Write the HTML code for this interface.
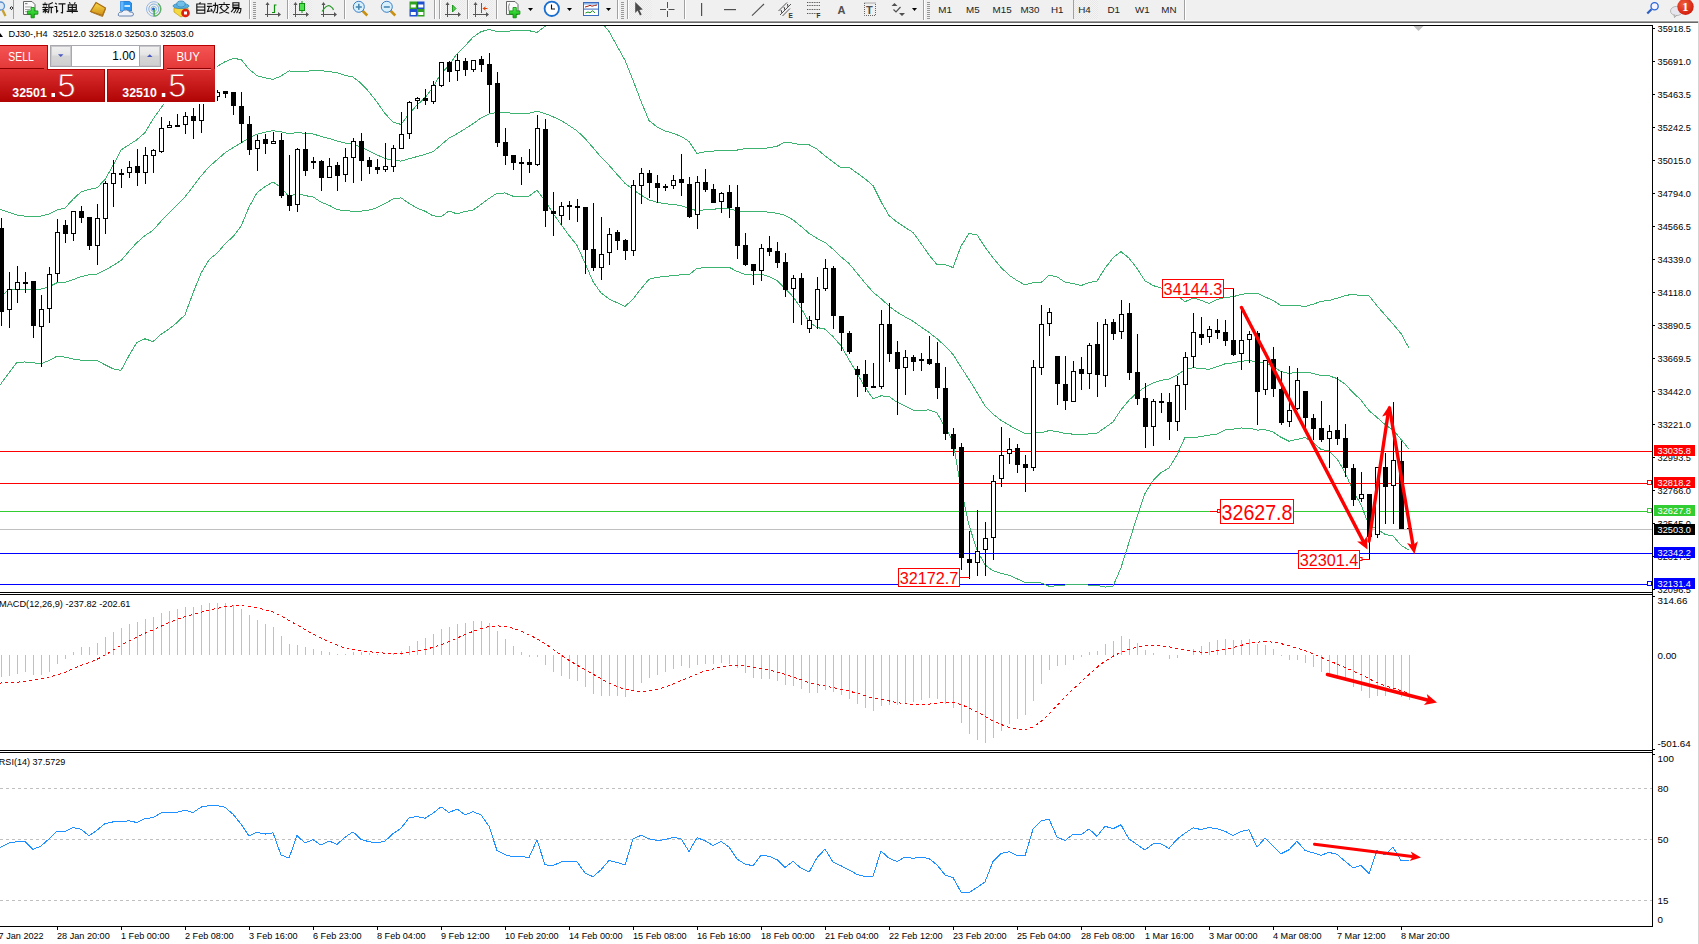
<!DOCTYPE html>
<html><head><meta charset="utf-8">
<style>
html,body{margin:0;padding:0;background:#fff;}
body{width:1699px;height:944px;overflow:hidden;position:relative;font-family:"Liberation Sans",sans-serif;}
#tb{position:absolute;left:0;top:0;width:1699px;height:20px;background:#f0f0f0;}
svg{position:absolute;left:0;top:0;}
.ax text{font-size:9.8px;fill:#000;}
</style></head><body>
<svg width="1699" height="944" viewBox="0 0 1699 944" shape-rendering="crispEdges">
<rect x="0" y="0" width="1699" height="20" fill="#f0f0f0"/>
<g shape-rendering="auto">
<defs><pattern id="chk" width="2" height="2" patternUnits="userSpaceOnUse"><rect width="2" height="2" fill="#f4f4f4"/><rect width="1" height="1" fill="#e8e8e8"/><rect x="1" y="1" width="1" height="1" fill="#e8e8e8"/></pattern><linearGradient id="gold" x1="0" y1="0" x2="0" y2="1"><stop offset="0" stop-color="#f8d848"/><stop offset="1" stop-color="#d09018"/></linearGradient><linearGradient id="grn" x1="0" y1="0" x2="0" y2="1"><stop offset="0" stop-color="#50f050"/><stop offset="1" stop-color="#10b010"/></linearGradient><radialGradient id="badge" cx="0.4" cy="0.35" r="0.7"><stop offset="0" stop-color="#f06040"/><stop offset="1" stop-color="#d01808"/></radialGradient></defs>
<circle cx="0.5" cy="6" r="4" fill="#dbe8f5" stroke="#5a8fd0" stroke-width="1.3"/><path d="M2.5,10 L5.5,16" stroke="#c8a030" stroke-width="2.4"/>
<path d="M11.5,6.6 L13,8.1 L11.5,9.6 L10,8.1 Z" fill="none" stroke="#000" stroke-width="0.9"/>
<rect x="13" y="0" width="1" height="19" fill="#a0a0a0"/>
<path d="M23.5,1.5 H32 L35,4.5 V14.5 H23.5 Z" fill="#fafafa" stroke="#666" stroke-width="1"/><rect x="25" y="3" width="2.5" height="1.2" fill="#888"/><rect x="25" y="6.5" width="7" height="0.9" fill="#999"/><rect x="25" y="9" width="5" height="0.9" fill="#999"/><rect x="25" y="11.2" width="3" height="0.9" fill="#999"/>
<path d="M31,7.5 h3.3 v3.4 h3.6 v3.3 h-3.6 v3.6 h-3.3 v-3.6 h-3.6 v-3.3 h3.6 Z" fill="url(#grn)" stroke="#0a8a0a" stroke-width="0.8"/>
<path transform="translate(42.3,2.2)" d="M2.5,0.3L3,1.3 M0.3,2.2H5.3 M1.3,3.2L1.9,4.4 M4.3,3.2L3.7,4.4 M0,5.3H5.6 M3,5.3V11 M0.3,7.4H5.6 M3,7.6L0.5,10.2 M3,8.2L5.3,9.8 M10.5,0.4Q8.5,1.5 6.6,2 V7.5Q6.5,9.8 5.6,11 M6.6,5.2H11 M9,5.2V11" fill="none" stroke="#111" stroke-width="1.15"/><path transform="translate(54.5,2.2)" d="M0.8,0.6L2.2,2.1 M0,4.3H2.1V9.8L3.6,8.3 M4,1.7H11 M8,1.7V10.5Q8,11 6.3,10.3" fill="none" stroke="#111" stroke-width="1.15"/><path transform="translate(66.7,2.2)" d="M2.6,0.1L3.6,1.6 M8.6,0.1L7.6,1.6 M1.6,2.6H9.6V7.6H1.6Z M1.6,5.1H9.6 M5.6,2.6V11 M0,9.2H11.2" fill="none" stroke="#111" stroke-width="1.15"/>
<path d="M96,2.6 L105.5,8 L102.5,15.5 L90.5,11.5 Z" fill="url(#gold)" stroke="#a86a10" stroke-width="1.1"/><path d="M91,12 L102.5,16.5 L105.5,9" fill="none" stroke="#b07820" stroke-width="1"/>
<path d="M120.5,1.5 H129.5 L131.5,3 V11 H120.5 Z" fill="#2a96f0" stroke="#1c70c8" stroke-width="0.8"/><rect x="124.5" y="5" width="5.5" height="2" fill="#cfe8ff"/><rect x="120.5" y="1.5" width="3" height="9" fill="#63b8ff"/>
<path d="M119.5,16 Q117.5,16 118.5,13.5 Q119.5,11.5 122,12 Q123.5,9.3 126.5,10 Q129,10 129.5,12 Q133.5,11.5 133.5,14 Q133.5,16.3 131,16 Z" fill="#eef2f8" stroke="#5877a8" stroke-width="0.9"/>
<circle cx="153.8" cy="9" r="7.3" fill="none" stroke="#8fb0e0" stroke-width="0.9"/><circle cx="153.8" cy="9" r="5" fill="none" stroke="#7aa8d8" stroke-width="0.9"/><circle cx="153.8" cy="9" r="2.7" fill="none" stroke="#88b8c8" stroke-width="0.9"/><path d="M158,3.5 A7.3,7.3 0 0 1 155,16.2" fill="none" stroke="#60b060" stroke-width="1.2"/><circle cx="153.5" cy="9" r="1.5" fill="#2060d0"/><rect x="153.5" y="9.5" width="1.2" height="7" fill="#20a020"/>
<path d="M174,12 L181,17 L188,13 L188,8 L174,8 Z" fill="#f4d840" stroke="#c8a020" stroke-width="0.8"/><ellipse cx="181" cy="6" rx="8" ry="2.6" fill="#58b0e0" stroke="#3a88b8" stroke-width="0.8"/><ellipse cx="181" cy="4" rx="4.2" ry="3" fill="#70c0ea" stroke="#3a88b8" stroke-width="0.8"/>
<circle cx="185.5" cy="13" r="4.3" fill="#dd2010"/><rect x="184" y="11.5" width="3" height="3" fill="#fff"/>
<path transform="translate(195.2,2.2)" d="M5.2,0L4.3,1.7 M1.6,1.8H9.6V11H1.6Z M1.6,4.8H9.6 M1.6,7.9H9.6" fill="none" stroke="#111" stroke-width="1.15"/><path transform="translate(206.9,2.2)" d="M0.4,1.5H5 M0,4.1H5.6 M2.6,4.1L0.6,9.2L5,8.5 M4,6.6L5.6,9.3 M6,3.2H10.8Q10.8,9 10.2,10.6L8.8,10 M8.5,0.2V4.6Q8.3,8.5 6,11" fill="none" stroke="#111" stroke-width="1.15"/><path transform="translate(218.6,2.2)" d="M5.5,0V1.6 M0,2.3H11.2 M3.6,3.3L1.2,5.8 M7.6,3.3L10.2,5.8 M2.2,5.8Q5,10 10.6,11 M9,5.8Q6.5,10 0.6,11" fill="none" stroke="#111" stroke-width="1.15"/><path transform="translate(230.3,2.2)" d="M2.6,0.5H8.6V5.2H2.6Z M2.6,2.9H8.6 M2.4,6.3H10.6Q10.6,9.5 9.6,10.8L8.4,10.2 M3.6,6.3L0.8,10 M6,6.3Q5.5,8.8 3.4,10.8 M8.3,6.3Q7.8,9 6.2,10.8" fill="none" stroke="#111" stroke-width="1.15"/>
<rect x="249" y="0" width="1" height="19" fill="#a0a0a0"/><rect x="250" y="0" width="1" height="19" fill="#ffffff"/>
<rect x="253" y="2" width="3" height="1" fill="#999"/><rect x="253" y="4" width="3" height="1" fill="#999"/><rect x="253" y="6" width="3" height="1" fill="#999"/><rect x="253" y="8" width="3" height="1" fill="#999"/><rect x="253" y="10" width="3" height="1" fill="#999"/><rect x="253" y="12" width="3" height="1" fill="#999"/><rect x="253" y="14" width="3" height="1" fill="#999"/><rect x="253" y="16" width="3" height="1" fill="#999"/><rect x="253" y="18" width="3" height="1" fill="#999"/>
<g fill="#555"><rect x="267" y="3" width="1" height="14"/><rect x="265" y="14" width="15" height="1"/><path d="M265.5,5 L267.5,2 L269.5,5 Z"/><path d="M278,12 L281,14.5 L278,17 Z"/></g>
<path d="M272,12.5 H274.5 V5 H276.5" fill="none" stroke="#109010" stroke-width="1.2"/>
<rect x="287" y="0" width="1" height="19" fill="#a0a0a0"/><rect x="288" y="0" width="1" height="19" fill="#ffffff"/>
<rect x="289" y="0" width="23" height="19" fill="url(#chk)"/>
<g fill="#555"><rect x="295" y="3" width="1" height="14"/><rect x="293" y="14" width="15" height="1"/><path d="M293.5,5 L295.5,2 L297.5,5 Z"/><path d="M306,12 L309,14.5 L306,17 Z"/></g>
<rect x="301.5" y="1" width="1" height="12" fill="#109010"/><rect x="299.5" y="3.5" width="5" height="7" fill="#50e050" stroke="#109010" stroke-width="1"/>
<g fill="#555"><rect x="323" y="3" width="1" height="14"/><rect x="321" y="14" width="15" height="1"/><path d="M321.5,5 L323.5,2 L325.5,5 Z"/><path d="M334,12 L337,14.5 L334,17 Z"/></g>
<path d="M322,11.5 Q327,4 330,6 Q333,8 333.5,10" fill="none" stroke="#2a9a2a" stroke-width="1.1"/>
<rect x="344" y="0" width="1" height="19" fill="#a0a0a0"/><rect x="345" y="0" width="1" height="19" fill="#ffffff"/>
<path d="M362.3,10.5 L367.3,15.5" stroke="#c89010" stroke-width="2.6"/>
<circle cx="358.8" cy="6.8" r="5.5" fill="#d8effc" stroke="#3a80c8" stroke-width="1"/>
<rect x="355.8" y="6.2" width="6" height="1.6" fill="#4a88b0"/>
<rect x="358.0" y="3.8" width="1.6" height="6" fill="#4a88b0"/>
<path d="M390.3,10.5 L395.3,15.5" stroke="#c89010" stroke-width="2.6"/>
<circle cx="386.8" cy="6.8" r="5.5" fill="#d8effc" stroke="#3a80c8" stroke-width="1"/>
<rect x="383.8" y="6.2" width="6" height="1.6" fill="#4a88b0"/>
<rect x="409.5" y="1.5" width="7.5" height="7.5" fill="#30a020"/><rect x="417" y="1.5" width="7.5" height="7.5" fill="#2050d0"/><rect x="409.5" y="9" width="7.5" height="7.5" fill="#2050d0"/><rect x="417" y="9" width="7.5" height="7.5" fill="#30a020"/>
<g fill="#fff"><rect x="410.8" y="4.5" width="5" height="3"/><rect x="418.3" y="4.5" width="5" height="3"/><rect x="410.8" y="12" width="5" height="3"/><rect x="418.3" y="12" width="5" height="3"/></g>
<rect x="434" y="0" width="1" height="19" fill="#a0a0a0"/><rect x="435" y="0" width="1" height="19" fill="#ffffff"/>
<rect x="439" y="0" width="1" height="19" fill="#a0a0a0"/><rect x="440" y="0" width="1" height="19" fill="#ffffff"/>
<rect x="441" y="0" width="24" height="19" fill="url(#chk)"/>
<g fill="#555"><rect x="447" y="3" width="1" height="14"/><rect x="445" y="14" width="15" height="1"/><path d="M445.5,5 L447.5,2 L449.5,5 Z"/><path d="M458,12 L461,14.5 L458,17 Z"/></g>
<path d="M452.5,5 L456,8.5 L452.5,12 Z" fill="#50d050" stroke="#109010" stroke-width="0.9"/>
<rect x="467" y="0" width="1" height="19" fill="#a0a0a0"/><rect x="468" y="0" width="1" height="19" fill="#ffffff"/>
<rect x="469" y="0" width="24" height="19" fill="url(#chk)"/>
<g fill="#555"><rect x="475" y="3" width="1" height="14"/><rect x="473" y="14" width="15" height="1"/><path d="M473.5,5 L475.5,2 L477.5,5 Z"/><path d="M486,12 L489,14.5 L486,17 Z"/></g>
<rect x="481" y="3" width="1" height="10" fill="#1a70b0"/><path d="M482.5,8.5 L486,6.3 L485,8 L487.5,8 L487.5,9 L485,9 L486,10.7 Z" fill="#e04000"/>
<rect x="496" y="0" width="1" height="19" fill="#a0a0a0"/><rect x="497" y="0" width="1" height="19" fill="#ffffff"/>
<path d="M506.5,1.5 H515 L518,4.5 V14.5 H506.5 Z" fill="#fafafa" stroke="#666" stroke-width="1"/><path d="M509.5,3.5 Q508,6 509,11" stroke="#666" fill="none" stroke-width="0.8"/>
<path d="M513,7.5 h3.3 v3.4 h3.6 v3.3 h-3.6 v3.6 h-3.3 v-3.6 h-3.6 v-3.3 h3.6 Z" fill="url(#grn)" stroke="#0a8a0a" stroke-width="0.8"/>
<path d="M528,8 L533,8 L530.5,11 Z" fill="#000"/>
<circle cx="551.8" cy="8.8" r="7.2" fill="#fff" stroke="#1a6fd0" stroke-width="1.8"/><path d="M551.5,4.5 V9 H555" fill="none" stroke="#111" stroke-width="1.1"/>
<path d="M567,8 L572,8 L569.5,11 Z" fill="#000"/>
<rect x="583.5" y="2.5" width="15" height="13" fill="#fff" stroke="#3a6cc0" stroke-width="1"/><rect x="584" y="3" width="14" height="1.6" fill="#8fb4e8"/><rect x="584" y="8.6" width="14" height="1" fill="#3a6cc0"/>
<path d="M585,7 L588,6.2 L590,5.3 L592,6.2 L594.5,5.5 L597,5" fill="none" stroke="#a02010" stroke-width="1"/><path d="M585.5,13 L588,12 L590,12.8 L592.5,10.8 L595,12.8" fill="none" stroke="#10901a" stroke-width="1"/>
<path d="M606,8 L611,8 L608.5,11 Z" fill="#000"/>
<rect x="617" y="0" width="1" height="19" fill="#a0a0a0"/><rect x="618" y="0" width="1" height="19" fill="#ffffff"/>
<rect x="621" y="2" width="3" height="1" fill="#999"/><rect x="621" y="4" width="3" height="1" fill="#999"/><rect x="621" y="6" width="3" height="1" fill="#999"/><rect x="621" y="8" width="3" height="1" fill="#999"/><rect x="621" y="10" width="3" height="1" fill="#999"/><rect x="621" y="12" width="3" height="1" fill="#999"/><rect x="621" y="14" width="3" height="1" fill="#999"/><rect x="621" y="16" width="3" height="1" fill="#999"/><rect x="621" y="18" width="3" height="1" fill="#999"/>
<rect x="627" y="0" width="1" height="19" fill="#a0a0a0"/><rect x="628" y="0" width="1" height="19" fill="#ffffff"/>
<rect x="629" y="0" width="23" height="19" fill="url(#chk)"/>
<path d="M635.2,2 L635.2,13 L637.6,10.6 L640,15.5 L641.7,14.6 L639.4,10 L642.8,9.6 Z" fill="#4a4a4a"/>
<g fill="#505050"><rect x="660" y="9" width="6" height="1"/><rect x="668.5" y="9" width="6" height="1"/><rect x="667" y="2" width="1" height="6"/><rect x="667" y="11" width="1" height="6"/></g>
<rect x="684" y="0" width="1" height="19" fill="#a0a0a0"/><rect x="685" y="0" width="1" height="19" fill="#ffffff"/>
<rect x="701" y="3" width="1.2" height="13" fill="#505050"/><rect x="724" y="9" width="12" height="1.2" fill="#505050"/>
<path d="M752,15.6 L764,4" stroke="#505050" stroke-width="1.1"/>
<path d="M778.5,11 L787,2.5 M780,15 L791,4 M782.5,16 L790,8.5" stroke="#444" stroke-width="0.9" fill="none"/><path d="M781,10 L782,13 M784,7 L785,10 M787.5,4 L788,7" stroke="#444" stroke-width="1"/>
<text x="788.5" y="17.8" font-size="6.5" font-weight="bold" fill="#333">E</text>
<g fill="#555"><rect x="807.0" y="2" width="1" height="1"/><rect x="808.7" y="2" width="1" height="1"/><rect x="810.4" y="2" width="1" height="1"/><rect x="812.1" y="2" width="1" height="1"/><rect x="813.8" y="2" width="1" height="1"/><rect x="815.5" y="2" width="1" height="1"/><rect x="817.2" y="2" width="1" height="1"/><rect x="818.9" y="2" width="1" height="1"/><rect x="807.0" y="5" width="1" height="1"/><rect x="808.7" y="5" width="1" height="1"/><rect x="810.4" y="5" width="1" height="1"/><rect x="812.1" y="5" width="1" height="1"/><rect x="813.8" y="5" width="1" height="1"/><rect x="815.5" y="5" width="1" height="1"/><rect x="817.2" y="5" width="1" height="1"/><rect x="818.9" y="5" width="1" height="1"/><rect x="807.0" y="9" width="1" height="1"/><rect x="808.7" y="9" width="1" height="1"/><rect x="810.4" y="9" width="1" height="1"/><rect x="812.1" y="9" width="1" height="1"/><rect x="813.8" y="9" width="1" height="1"/><rect x="815.5" y="9" width="1" height="1"/><rect x="817.2" y="9" width="1" height="1"/><rect x="818.9" y="9" width="1" height="1"/><rect x="807.0" y="13" width="1" height="1"/><rect x="808.7" y="13" width="1" height="1"/><rect x="810.4" y="13" width="1" height="1"/><rect x="812.1" y="13" width="1" height="1"/><rect x="813.8" y="13" width="1" height="1"/><rect x="815.5" y="13" width="1" height="1"/><rect x="817.2" y="13" width="1" height="1"/><rect x="818.9" y="13" width="1" height="1"/></g>
<text x="816.5" y="17.8" font-size="6.5" font-weight="bold" fill="#333">F</text>
<text x="837.6" y="14" font-size="11" font-weight="bold" fill="#505050">A</text>
<rect x="864.5" y="3" width="11" height="12.5" fill="none" stroke="#555" stroke-width="0.9" stroke-dasharray="1,1"/><text x="866" y="13.6" font-size="11" font-weight="bold" fill="#505050">T</text>
<path d="M891.5,6 L894.5,3 L897.5,6 Z M899,13 L902,16 L905,13 Z" fill="#505050"/><path d="M893.5,9.5 L896,12 L900.5,7" fill="none" stroke="#505050" stroke-width="1.2"/>
<path d="M912,8 L917,8 L914.5,11 Z" fill="#000"/>
<rect x="923" y="0" width="1" height="20" fill="#a0a0a0"/><rect x="924" y="0" width="1" height="20" fill="#ffffff"/>
<rect x="927" y="2" width="3" height="1" fill="#999"/><rect x="927" y="4" width="3" height="1" fill="#999"/><rect x="927" y="6" width="3" height="1" fill="#999"/><rect x="927" y="8" width="3" height="1" fill="#999"/><rect x="927" y="10" width="3" height="1" fill="#999"/><rect x="927" y="12" width="3" height="1" fill="#999"/><rect x="927" y="14" width="3" height="1" fill="#999"/><rect x="927" y="16" width="3" height="1" fill="#999"/><rect x="927" y="18" width="3" height="1" fill="#999"/>
<rect x="1074" y="0" width="24" height="19" fill="url(#chk)"/>
<rect x="1073" y="0" width="1" height="19" fill="#a0a0a0"/>
<text x="938.3" y="13.2" font-size="9.8" fill="#222">M1</text>
<text x="966.1" y="13.2" font-size="9.8" fill="#222">M5</text>
<text x="992.6" y="13.2" font-size="9.8" fill="#222">M15</text>
<text x="1020.4" y="13.2" font-size="9.8" fill="#222">M30</text>
<text x="1051" y="13.2" font-size="9.8" fill="#222">H1</text>
<text x="1078.2" y="13.2" font-size="9.8" fill="#222">H4</text>
<text x="1107.5" y="13.2" font-size="9.8" fill="#222">D1</text>
<text x="1135" y="13.2" font-size="9.8" fill="#222">W1</text>
<text x="1161.3" y="13.2" font-size="9.8" fill="#222">MN</text>
<rect x="1184" y="0" width="1" height="20" fill="#a0a0a0"/><rect x="1185" y="0" width="1" height="20" fill="#ffffff"/>
<path d="M1651.5,9.3 L1647.3,13.6" stroke="#2a5fc8" stroke-width="2.2"/><circle cx="1654.6" cy="6.3" r="3.6" fill="#f4f4ff" stroke="#2a66d8" stroke-width="1.3"/>
<ellipse cx="1676.5" cy="11" rx="6" ry="4.6" fill="#e6e6ee" stroke="#b0b0b0" stroke-width="0.9"/><path d="M1674,14.5 L1674.5,17.6 L1677,15" fill="#ccc" stroke="#999" stroke-width="0.7"/>
<circle cx="1685.5" cy="6.8" r="8.2" fill="url(#badge)"/><text x="1682.2" y="10.9" font-size="12.5" font-family="Liberation Serif" font-weight="bold" fill="#fff">1</text>
</g>
<!-- toolbar bottom lines -->
<rect x="0" y="20" width="1699" height="1" fill="#f7f7f7"/>
<rect x="0" y="21" width="1698" height="1" fill="#a0a0a0"/>
<rect x="0" y="22" width="1698" height="1" fill="#696969"/>
<rect x="1698" y="21" width="1" height="923" fill="#d4d4d4"/>
<defs>
<clipPath id="cm"><rect x="0" y="26" width="1652" height="566"/></clipPath>
<clipPath id="cd"><rect x="0" y="595" width="1652" height="155"/></clipPath>
<clipPath id="cr"><rect x="0" y="753" width="1652" height="173"/></clipPath>
</defs>
<!-- frames -->
<g fill="#000">
<rect x="0" y="25" width="1653" height="1"/>
<rect x="1652" y="25" width="1" height="902"/>
<rect x="0" y="592" width="1653" height="1"/>
<rect x="0" y="594" width="1653" height="1"/>
<rect x="0" y="750" width="1653" height="1"/>
<rect x="0" y="752" width="1653" height="1"/>
<rect x="0" y="926" width="1653" height="1"/>
</g>
<!-- main chart -->
<g clip-path="url(#cm)">
<!-- horizontal lines -->
<rect x="0" y="451" width="1652" height="1" fill="#ff0000"/>
<rect x="0" y="483" width="1652" height="1" fill="#ff0000"/>
<rect x="0" y="511" width="1652" height="1" fill="#32cd32"/>
<rect x="0" y="529" width="1652" height="1" fill="#c0c0c0"/>
<rect x="0" y="553" width="1652" height="1" fill="#0000ff"/>
<rect x="0" y="584" width="1652" height="1" fill="#0000ff"/>
<g fill="none" stroke="#3cb371" stroke-width="1" shape-rendering="crispEdges">
<polyline points="-7.0,206.6 1.0,209.5 9.0,212.4 17.0,215.1 25.0,216.1 33.0,216.1 41.0,216.1 49.0,214.0 57.0,209.9 65.0,208.1 73.0,199.3 81.0,192.0 89.0,189.5 97.0,187.9 105.0,179.5 113.0,165.6 121.0,150.0 129.0,144.8 137.0,139.6 145.0,132.6 153.0,119.1 161.0,108.0 169.0,96.9 177.0,87.6 185.0,78.8 193.0,80.1 201.0,78.8 209.0,74.1 217.0,66.5 225.0,61.8 233.0,58.5 241.0,59.4 249.0,69.1 257.0,75.7 265.0,77.9 273.0,79.4 281.0,76.0 289.0,70.9 297.0,71.8 305.0,71.1 313.0,70.9 321.0,70.6 329.0,71.6 337.0,72.6 345.0,75.3 353.0,77.0 361.0,83.3 369.0,91.8 377.0,102.1 385.0,113.5 393.0,122.2 401.0,124.4 409.0,114.0 417.0,105.1 425.0,97.7 433.0,87.5 441.0,73.2 449.0,65.5 457.0,53.7 465.0,46.0 473.0,37.2 481.0,31.7 489.0,29.5 497.0,31.5 505.0,31.6 513.0,30.6 521.0,30.5 529.0,30.7 537.0,32.4 545.0,26.4 553.0,20.2 561.0,16.4 569.0,15.7 577.0,16.5 585.0,13.8 593.0,13.5 601.0,21.4 609.0,31.5 617.0,45.9 625.0,60.2 633.0,80.2 641.0,101.2 649.0,120.5 657.0,126.9 665.0,130.9 673.0,133.3 681.0,136.3 689.0,141.4 697.0,153.5 705.0,151.8 713.0,151.2 721.0,150.1 729.0,150.3 737.0,150.1 745.0,148.6 753.0,148.2 761.0,148.7 769.0,147.8 777.0,146.3 785.0,142.0 793.0,143.2 801.0,144.8 809.0,144.7 817.0,149.2 825.0,155.8 833.0,161.9 841.0,167.7 849.0,167.3 857.0,173.0 865.0,178.8 873.0,185.6 881.0,201.6 889.0,215.5 897.0,222.1 905.0,227.4 913.0,232.5 921.0,243.4 929.0,255.0 937.0,264.6 945.0,264.5 953.0,267.6 961.0,246.2 969.0,233.5 977.0,234.8 985.0,247.0 993.0,257.7 1001.0,267.4 1009.0,275.1 1017.0,280.5 1025.0,285.0 1033.0,282.6 1041.0,282.6 1049.0,275.1 1057.0,276.9 1065.0,282.2 1073.0,283.4 1081.0,285.6 1089.0,282.6 1097.0,281.0 1105.0,268.3 1113.0,257.8 1121.0,251.7 1129.0,258.1 1137.0,268.5 1145.0,280.8 1153.0,285.5 1161.0,288.1 1169.0,290.1 1177.0,295.2 1185.0,301.7 1193.0,298.0 1201.0,300.2 1209.0,303.5 1217.0,299.5 1225.0,297.6 1233.0,296.7 1241.0,294.5 1249.0,293.3 1257.0,293.0 1265.0,297.0 1273.0,300.3 1281.0,305.8 1289.0,305.6 1297.0,305.5 1305.0,306.5 1313.0,304.3 1321.0,301.3 1329.0,300.5 1337.0,298.3 1345.0,295.7 1353.0,294.1 1361.0,295.8 1369.0,295.8 1377.0,305.8 1385.0,314.9 1393.0,324.0 1401.0,333.5 1409.0,348.1"/>
<polyline points="-7.0,302.3 1.0,296.1 9.0,289.9 17.0,289.0 25.0,289.0 33.0,289.0 41.0,289.1 49.0,286.8 57.0,282.7 65.0,282.2 73.0,279.6 81.0,276.7 89.0,274.8 97.0,274.2 105.0,270.2 113.0,265.5 121.0,260.5 129.0,251.3 137.0,242.5 145.0,235.5 153.0,230.3 161.0,221.2 169.0,212.9 177.0,205.1 185.0,196.8 193.0,186.6 201.0,176.0 209.0,166.9 217.0,159.8 225.0,152.8 233.0,147.6 241.0,142.9 249.0,138.1 257.0,134.2 265.0,132.2 273.0,130.7 281.0,131.8 289.0,133.8 297.0,132.6 305.0,133.3 313.0,133.9 321.0,136.4 329.0,138.4 337.0,141.0 345.0,143.1 353.0,144.1 361.0,147.2 369.0,150.9 377.0,154.9 385.0,158.5 393.0,160.6 401.0,161.1 409.0,158.7 417.0,156.6 425.0,154.4 433.0,151.7 441.0,144.9 449.0,138.2 457.0,133.8 465.0,128.8 473.0,123.7 481.0,118.0 489.0,114.0 497.0,112.3 505.0,112.3 513.0,113.4 521.0,113.5 529.0,113.3 537.0,111.2 545.0,113.5 553.0,116.8 561.0,120.4 569.0,125.5 577.0,130.9 585.0,138.4 593.0,147.6 601.0,157.2 609.0,165.2 617.0,174.3 625.0,183.3 633.0,189.6 641.0,195.0 649.0,199.9 657.0,202.2 665.0,203.7 673.0,204.5 681.0,205.6 689.0,208.2 697.0,210.8 705.0,209.8 713.0,209.2 721.0,208.6 729.0,208.8 737.0,210.8 745.0,211.5 753.0,211.7 761.0,211.3 769.0,212.2 777.0,213.3 785.0,215.3 793.0,219.9 801.0,226.4 809.0,233.3 817.0,238.3 825.0,242.4 833.0,249.2 841.0,256.8 849.0,263.5 857.0,273.1 865.0,283.0 873.0,292.1 881.0,298.7 889.0,306.0 897.0,312.1 905.0,316.8 913.0,321.3 921.0,326.9 929.0,332.4 937.0,338.7 945.0,345.9 953.0,354.4 961.0,367.2 969.0,379.4 977.0,392.4 985.0,405.9 993.0,414.2 1001.0,420.3 1009.0,425.1 1017.0,429.6 1025.0,433.7 1033.0,432.8 1041.0,432.8 1049.0,430.6 1057.0,431.4 1065.0,433.6 1073.0,434.1 1081.0,434.8 1089.0,433.9 1097.0,433.2 1105.0,427.7 1113.0,421.9 1121.0,409.8 1129.0,400.2 1137.0,392.6 1145.0,387.1 1153.0,383.1 1161.0,380.4 1169.0,379.1 1177.0,375.1 1185.0,369.5 1193.0,367.8 1201.0,368.4 1209.0,369.3 1217.0,366.8 1225.0,363.8 1233.0,362.9 1241.0,361.2 1249.0,360.7 1257.0,361.6 1265.0,363.4 1273.0,366.1 1281.0,371.6 1289.0,373.4 1297.0,372.4 1305.0,372.0 1313.0,373.4 1321.0,375.4 1329.0,375.8 1337.0,378.5 1345.0,384.1 1353.0,392.4 1361.0,400.2 1369.0,410.6 1377.0,417.4 1385.0,424.6 1393.0,429.9 1401.0,439.4 1409.0,449.1"/>
<polyline points="-7.0,394.6 1.0,383.7 9.0,372.9 17.0,362.1 25.0,362.0 33.0,362.8 41.0,363.6 49.0,360.7 57.0,356.1 65.0,357.1 73.0,359.1 81.0,360.2 89.0,360.2 97.0,360.4 105.0,364.8 113.0,368.7 121.0,370.4 129.0,355.6 137.0,342.3 145.0,338.8 153.0,341.6 161.0,334.3 169.0,329.0 177.0,322.6 185.0,314.8 193.0,293.0 201.0,273.2 209.0,259.7 217.0,253.2 225.0,243.9 233.0,236.7 241.0,226.4 249.0,207.1 257.0,192.7 265.0,186.6 273.0,181.9 281.0,187.6 289.0,196.6 297.0,193.3 305.0,195.6 313.0,196.9 321.0,202.2 329.0,205.3 337.0,209.4 345.0,210.8 353.0,211.1 361.0,211.1 369.0,210.1 377.0,207.7 385.0,203.5 393.0,199.0 401.0,197.8 409.0,203.4 417.0,208.1 425.0,211.2 433.0,215.8 441.0,216.7 449.0,211.0 457.0,213.9 465.0,211.5 473.0,210.2 481.0,204.4 489.0,198.5 497.0,193.2 505.0,193.0 513.0,196.2 521.0,196.4 529.0,196.0 537.0,190.1 545.0,200.6 553.0,213.4 561.0,224.4 569.0,235.4 577.0,245.4 585.0,263.0 593.0,281.6 601.0,292.9 609.0,299.0 617.0,302.7 625.0,306.5 633.0,299.0 641.0,288.8 649.0,279.3 657.0,277.4 665.0,276.4 673.0,275.7 681.0,274.8 689.0,274.9 697.0,268.2 705.0,267.8 713.0,267.3 721.0,267.1 729.0,267.2 737.0,271.4 745.0,274.4 753.0,275.1 761.0,274.0 769.0,276.7 777.0,280.4 785.0,288.6 793.0,296.7 801.0,308.1 809.0,321.9 817.0,327.5 825.0,329.1 833.0,336.6 841.0,345.8 849.0,359.7 857.0,373.3 865.0,387.2 873.0,398.7 881.0,395.8 889.0,396.5 897.0,402.2 905.0,406.1 913.0,410.1 921.0,410.3 929.0,409.9 937.0,412.8 945.0,427.3 953.0,441.3 961.0,488.2 969.0,525.2 977.0,550.1 985.0,564.9 993.0,570.7 1001.0,573.2 1009.0,575.2 1017.0,578.8 1025.0,582.4 1033.0,582.9 1041.0,582.9 1049.0,586.2 1057.0,585.9 1065.0,585.0 1073.0,584.7 1081.0,584.0 1089.0,585.1 1097.0,585.4 1105.0,587.1 1113.0,586.1 1121.0,567.8 1129.0,542.4 1137.0,516.8 1145.0,493.4 1153.0,480.7 1161.0,472.7 1169.0,468.0 1177.0,454.9 1185.0,437.3 1193.0,437.5 1201.0,436.7 1209.0,435.1 1217.0,434.0 1225.0,429.9 1233.0,429.2 1241.0,428.0 1249.0,428.1 1257.0,430.1 1265.0,429.7 1273.0,431.9 1281.0,437.3 1289.0,441.2 1297.0,439.4 1305.0,437.5 1313.0,442.5 1321.0,449.4 1329.0,451.1 1337.0,458.7 1345.0,472.4 1353.0,490.8 1361.0,504.7 1369.0,525.5 1377.0,528.9 1385.0,534.4 1393.0,535.8 1401.0,545.2 1409.0,550.1"/>
</g>
<g fill="#000">
<rect x="1" y="218" width="1" height="108"/>
<rect x="-1" y="228" width="5" height="84"/>
<rect x="9" y="272" width="1" height="17"/>
<rect x="9" y="310" width="1" height="18"/>
<rect x="7" y="289" width="5" height="21"/>
<rect x="8" y="290" width="3" height="19" fill="#fff"/>
<rect x="17" y="266" width="1" height="16"/>
<rect x="17" y="290" width="1" height="13"/>
<rect x="15" y="282" width="5" height="8"/>
<rect x="16" y="283" width="3" height="6" fill="#fff"/>
<rect x="25" y="272" width="1" height="21"/>
<rect x="23" y="282" width="5" height="2"/>
<rect x="33" y="281" width="1" height="57"/>
<rect x="31" y="281" width="5" height="45"/>
<rect x="41" y="295" width="1" height="14"/>
<rect x="41" y="327" width="1" height="40"/>
<rect x="39" y="309" width="5" height="18"/>
<rect x="40" y="310" width="3" height="16" fill="#fff"/>
<rect x="49" y="267" width="1" height="7"/>
<rect x="49" y="309" width="1" height="14"/>
<rect x="47" y="274" width="5" height="35"/>
<rect x="48" y="275" width="3" height="33" fill="#fff"/>
<rect x="57" y="219" width="1" height="13"/>
<rect x="57" y="274" width="1" height="8"/>
<rect x="55" y="232" width="5" height="42"/>
<rect x="56" y="233" width="3" height="40" fill="#fff"/>
<rect x="65" y="220" width="1" height="23"/>
<rect x="63" y="225" width="5" height="9"/>
<rect x="73" y="234" width="1" height="7"/>
<rect x="71" y="211" width="5" height="23"/>
<rect x="72" y="212" width="3" height="21" fill="#fff"/>
<rect x="81" y="206" width="1" height="17"/>
<rect x="79" y="211" width="5" height="7"/>
<rect x="89" y="217" width="1" height="33"/>
<rect x="87" y="217" width="5" height="29"/>
<rect x="97" y="204" width="1" height="14"/>
<rect x="97" y="246" width="1" height="19"/>
<rect x="95" y="218" width="5" height="28"/>
<rect x="96" y="219" width="3" height="26" fill="#fff"/>
<rect x="105" y="181" width="1" height="2"/>
<rect x="105" y="219" width="1" height="15"/>
<rect x="103" y="183" width="5" height="36"/>
<rect x="104" y="184" width="3" height="34" fill="#fff"/>
<rect x="113" y="160" width="1" height="13"/>
<rect x="113" y="184" width="1" height="23"/>
<rect x="111" y="173" width="5" height="11"/>
<rect x="112" y="174" width="3" height="9" fill="#fff"/>
<rect x="121" y="169" width="1" height="19"/>
<rect x="119" y="173" width="5" height="2"/>
<rect x="129" y="161" width="1" height="6"/>
<rect x="129" y="173" width="1" height="5"/>
<rect x="127" y="167" width="5" height="6"/>
<rect x="128" y="168" width="3" height="4" fill="#fff"/>
<rect x="137" y="149" width="1" height="37"/>
<rect x="135" y="166" width="5" height="7"/>
<rect x="145" y="147" width="1" height="8"/>
<rect x="145" y="173" width="1" height="11"/>
<rect x="143" y="155" width="5" height="18"/>
<rect x="144" y="156" width="3" height="16" fill="#fff"/>
<rect x="153" y="149" width="1" height="1"/>
<rect x="153" y="156" width="1" height="17"/>
<rect x="151" y="150" width="5" height="6"/>
<rect x="152" y="151" width="3" height="4" fill="#fff"/>
<rect x="161" y="117" width="1" height="11"/>
<rect x="161" y="152" width="1" height="1"/>
<rect x="159" y="128" width="5" height="24"/>
<rect x="160" y="129" width="3" height="22" fill="#fff"/>
<rect x="169" y="121" width="1" height="4"/>
<rect x="167" y="125" width="5" height="3"/>
<rect x="168" y="126" width="3" height="1" fill="#fff"/>
<rect x="177" y="114" width="1" height="12"/>
<rect x="175" y="125" width="5" height="2"/>
<rect x="185" y="112" width="1" height="4"/>
<rect x="185" y="125" width="1" height="9"/>
<rect x="183" y="116" width="5" height="9"/>
<rect x="184" y="117" width="3" height="7" fill="#fff"/>
<rect x="193" y="108" width="1" height="31"/>
<rect x="191" y="116" width="5" height="5"/>
<rect x="201" y="90" width="1" height="8"/>
<rect x="201" y="121" width="1" height="12"/>
<rect x="199" y="98" width="5" height="23"/>
<rect x="200" y="99" width="3" height="21" fill="#fff"/>
<rect x="209" y="88" width="1" height="4"/>
<rect x="209" y="99" width="1" height="1"/>
<rect x="207" y="92" width="5" height="7"/>
<rect x="208" y="93" width="3" height="5" fill="#fff"/>
<rect x="217" y="90" width="1" height="2"/>
<rect x="217" y="97" width="1" height="4"/>
<rect x="215" y="92" width="5" height="5"/>
<rect x="216" y="93" width="3" height="3" fill="#fff"/>
<rect x="225" y="91" width="1" height="7"/>
<rect x="223" y="91" width="5" height="3"/>
<rect x="233" y="92" width="1" height="23"/>
<rect x="231" y="92" width="5" height="14"/>
<rect x="241" y="92" width="1" height="51"/>
<rect x="239" y="106" width="5" height="18"/>
<rect x="249" y="116" width="1" height="39"/>
<rect x="247" y="124" width="5" height="26"/>
<rect x="257" y="135" width="1" height="5"/>
<rect x="257" y="149" width="1" height="22"/>
<rect x="255" y="140" width="5" height="9"/>
<rect x="256" y="141" width="3" height="7" fill="#fff"/>
<rect x="265" y="134" width="1" height="20"/>
<rect x="263" y="139" width="5" height="5"/>
<rect x="273" y="132" width="1" height="9"/>
<rect x="271" y="141" width="5" height="3"/>
<rect x="272" y="142" width="3" height="1" fill="#fff"/>
<rect x="281" y="133" width="1" height="65"/>
<rect x="279" y="140" width="5" height="56"/>
<rect x="289" y="155" width="1" height="56"/>
<rect x="287" y="195" width="5" height="11"/>
<rect x="297" y="148" width="1" height="1"/>
<rect x="297" y="205" width="1" height="7"/>
<rect x="295" y="149" width="5" height="56"/>
<rect x="296" y="150" width="3" height="54" fill="#fff"/>
<rect x="305" y="132" width="1" height="44"/>
<rect x="303" y="149" width="5" height="22"/>
<rect x="313" y="157" width="1" height="12"/>
<rect x="311" y="161" width="5" height="2"/>
<rect x="321" y="160" width="1" height="31"/>
<rect x="319" y="161" width="5" height="17"/>
<rect x="329" y="158" width="1" height="8"/>
<rect x="327" y="166" width="5" height="12"/>
<rect x="328" y="167" width="3" height="10" fill="#fff"/>
<rect x="337" y="162" width="1" height="29"/>
<rect x="335" y="165" width="5" height="11"/>
<rect x="345" y="148" width="1" height="9"/>
<rect x="345" y="175" width="1" height="7"/>
<rect x="343" y="157" width="5" height="18"/>
<rect x="344" y="158" width="3" height="16" fill="#fff"/>
<rect x="353" y="138" width="1" height="3"/>
<rect x="353" y="158" width="1" height="25"/>
<rect x="351" y="141" width="5" height="17"/>
<rect x="352" y="142" width="3" height="15" fill="#fff"/>
<rect x="361" y="133" width="1" height="48"/>
<rect x="359" y="141" width="5" height="20"/>
<rect x="369" y="157" width="1" height="17"/>
<rect x="367" y="160" width="5" height="7"/>
<rect x="377" y="159" width="1" height="15"/>
<rect x="375" y="167" width="5" height="3"/>
<rect x="385" y="143" width="1" height="23"/>
<rect x="385" y="170" width="1" height="2"/>
<rect x="383" y="166" width="5" height="4"/>
<rect x="384" y="167" width="3" height="2" fill="#fff"/>
<rect x="393" y="145" width="1" height="3"/>
<rect x="393" y="167" width="1" height="5"/>
<rect x="391" y="148" width="5" height="19"/>
<rect x="392" y="149" width="3" height="17" fill="#fff"/>
<rect x="401" y="112" width="1" height="22"/>
<rect x="399" y="134" width="5" height="15"/>
<rect x="400" y="135" width="3" height="13" fill="#fff"/>
<rect x="409" y="101" width="1" height="1"/>
<rect x="409" y="134" width="1" height="5"/>
<rect x="407" y="102" width="5" height="32"/>
<rect x="408" y="103" width="3" height="30" fill="#fff"/>
<rect x="417" y="97" width="1" height="1"/>
<rect x="417" y="101" width="1" height="8"/>
<rect x="415" y="98" width="5" height="3"/>
<rect x="416" y="99" width="3" height="1" fill="#fff"/>
<rect x="425" y="89" width="1" height="16"/>
<rect x="423" y="98" width="5" height="3"/>
<rect x="433" y="81" width="1" height="4"/>
<rect x="433" y="102" width="1" height="2"/>
<rect x="431" y="85" width="5" height="17"/>
<rect x="432" y="86" width="3" height="15" fill="#fff"/>
<rect x="441" y="86" width="1" height="1"/>
<rect x="439" y="62" width="5" height="24"/>
<rect x="440" y="63" width="3" height="22" fill="#fff"/>
<rect x="449" y="61" width="1" height="21"/>
<rect x="447" y="62" width="5" height="10"/>
<rect x="457" y="54" width="1" height="6"/>
<rect x="457" y="71" width="1" height="10"/>
<rect x="455" y="60" width="5" height="11"/>
<rect x="456" y="61" width="3" height="9" fill="#fff"/>
<rect x="465" y="58" width="1" height="18"/>
<rect x="463" y="61" width="5" height="9"/>
<rect x="473" y="70" width="1" height="2"/>
<rect x="471" y="60" width="5" height="10"/>
<rect x="472" y="61" width="3" height="8" fill="#fff"/>
<rect x="481" y="56" width="1" height="16"/>
<rect x="479" y="59" width="5" height="6"/>
<rect x="489" y="53" width="1" height="60"/>
<rect x="487" y="64" width="5" height="21"/>
<rect x="497" y="72" width="1" height="75"/>
<rect x="495" y="83" width="5" height="60"/>
<rect x="505" y="128" width="1" height="37"/>
<rect x="503" y="142" width="5" height="14"/>
<rect x="513" y="155" width="1" height="15"/>
<rect x="511" y="155" width="5" height="8"/>
<rect x="521" y="157" width="1" height="28"/>
<rect x="519" y="162" width="5" height="2"/>
<rect x="529" y="149" width="1" height="24"/>
<rect x="527" y="162" width="5" height="3"/>
<rect x="537" y="115" width="1" height="13"/>
<rect x="537" y="165" width="1" height="1"/>
<rect x="535" y="128" width="5" height="37"/>
<rect x="536" y="129" width="3" height="35" fill="#fff"/>
<rect x="545" y="119" width="1" height="108"/>
<rect x="543" y="129" width="5" height="82"/>
<rect x="553" y="192" width="1" height="44"/>
<rect x="551" y="211" width="5" height="3"/>
<rect x="561" y="202" width="1" height="4"/>
<rect x="561" y="216" width="1" height="9"/>
<rect x="559" y="206" width="5" height="10"/>
<rect x="560" y="207" width="3" height="8" fill="#fff"/>
<rect x="569" y="201" width="1" height="19"/>
<rect x="567" y="205" width="5" height="2"/>
<rect x="577" y="199" width="1" height="23"/>
<rect x="575" y="206" width="5" height="2"/>
<rect x="585" y="207" width="1" height="67"/>
<rect x="583" y="207" width="5" height="43"/>
<rect x="593" y="203" width="1" height="68"/>
<rect x="591" y="249" width="5" height="19"/>
<rect x="601" y="217" width="1" height="37"/>
<rect x="601" y="268" width="1" height="12"/>
<rect x="599" y="254" width="5" height="14"/>
<rect x="600" y="255" width="3" height="12" fill="#fff"/>
<rect x="609" y="228" width="1" height="6"/>
<rect x="609" y="253" width="1" height="12"/>
<rect x="607" y="234" width="5" height="19"/>
<rect x="608" y="235" width="3" height="17" fill="#fff"/>
<rect x="617" y="230" width="1" height="20"/>
<rect x="615" y="232" width="5" height="9"/>
<rect x="625" y="239" width="1" height="21"/>
<rect x="623" y="240" width="5" height="11"/>
<rect x="633" y="180" width="1" height="5"/>
<rect x="633" y="251" width="1" height="5"/>
<rect x="631" y="185" width="5" height="66"/>
<rect x="632" y="186" width="3" height="64" fill="#fff"/>
<rect x="641" y="168" width="1" height="5"/>
<rect x="641" y="186" width="1" height="18"/>
<rect x="639" y="173" width="5" height="13"/>
<rect x="640" y="174" width="3" height="11" fill="#fff"/>
<rect x="649" y="170" width="1" height="28"/>
<rect x="647" y="173" width="5" height="10"/>
<rect x="657" y="175" width="1" height="28"/>
<rect x="655" y="183" width="5" height="5"/>
<rect x="665" y="184" width="1" height="7"/>
<rect x="663" y="186" width="5" height="2"/>
<rect x="673" y="175" width="1" height="5"/>
<rect x="673" y="186" width="1" height="3"/>
<rect x="671" y="180" width="5" height="6"/>
<rect x="672" y="181" width="3" height="4" fill="#fff"/>
<rect x="681" y="154" width="1" height="42"/>
<rect x="679" y="179" width="5" height="4"/>
<rect x="689" y="177" width="1" height="41"/>
<rect x="687" y="184" width="5" height="33"/>
<rect x="697" y="176" width="1" height="6"/>
<rect x="697" y="215" width="1" height="14"/>
<rect x="695" y="182" width="5" height="33"/>
<rect x="696" y="183" width="3" height="31" fill="#fff"/>
<rect x="705" y="169" width="1" height="23"/>
<rect x="703" y="182" width="5" height="8"/>
<rect x="713" y="184" width="1" height="19"/>
<rect x="711" y="189" width="5" height="14"/>
<rect x="721" y="192" width="1" height="1"/>
<rect x="721" y="202" width="1" height="11"/>
<rect x="719" y="193" width="5" height="9"/>
<rect x="720" y="194" width="3" height="7" fill="#fff"/>
<rect x="729" y="185" width="1" height="33"/>
<rect x="727" y="192" width="5" height="16"/>
<rect x="737" y="185" width="1" height="74"/>
<rect x="735" y="207" width="5" height="39"/>
<rect x="745" y="233" width="1" height="33"/>
<rect x="743" y="245" width="5" height="20"/>
<rect x="753" y="264" width="1" height="21"/>
<rect x="751" y="264" width="5" height="7"/>
<rect x="761" y="244" width="1" height="4"/>
<rect x="761" y="271" width="1" height="10"/>
<rect x="759" y="248" width="5" height="23"/>
<rect x="760" y="249" width="3" height="21" fill="#fff"/>
<rect x="769" y="236" width="1" height="20"/>
<rect x="767" y="248" width="5" height="4"/>
<rect x="777" y="242" width="1" height="26"/>
<rect x="775" y="251" width="5" height="12"/>
<rect x="785" y="253" width="1" height="44"/>
<rect x="783" y="262" width="5" height="28"/>
<rect x="793" y="275" width="1" height="3"/>
<rect x="793" y="289" width="1" height="34"/>
<rect x="791" y="278" width="5" height="11"/>
<rect x="792" y="279" width="3" height="9" fill="#fff"/>
<rect x="801" y="273" width="1" height="52"/>
<rect x="799" y="278" width="5" height="25"/>
<rect x="809" y="316" width="1" height="4"/>
<rect x="809" y="329" width="1" height="4"/>
<rect x="807" y="320" width="5" height="9"/>
<rect x="808" y="321" width="3" height="7" fill="#fff"/>
<rect x="817" y="277" width="1" height="12"/>
<rect x="817" y="320" width="1" height="9"/>
<rect x="815" y="289" width="5" height="31"/>
<rect x="816" y="290" width="3" height="29" fill="#fff"/>
<rect x="825" y="259" width="1" height="9"/>
<rect x="825" y="289" width="1" height="2"/>
<rect x="823" y="268" width="5" height="21"/>
<rect x="824" y="269" width="3" height="19" fill="#fff"/>
<rect x="833" y="266" width="1" height="63"/>
<rect x="831" y="268" width="5" height="48"/>
<rect x="841" y="316" width="1" height="35"/>
<rect x="839" y="316" width="5" height="17"/>
<rect x="849" y="331" width="1" height="23"/>
<rect x="847" y="333" width="5" height="19"/>
<rect x="857" y="366" width="1" height="31"/>
<rect x="855" y="369" width="5" height="6"/>
<rect x="865" y="360" width="1" height="32"/>
<rect x="863" y="374" width="5" height="13"/>
<rect x="873" y="363" width="1" height="25"/>
<rect x="871" y="386" width="5" height="2"/>
<rect x="881" y="310" width="1" height="14"/>
<rect x="881" y="387" width="1" height="2"/>
<rect x="879" y="324" width="5" height="63"/>
<rect x="880" y="325" width="3" height="61" fill="#fff"/>
<rect x="889" y="303" width="1" height="59"/>
<rect x="887" y="324" width="5" height="30"/>
<rect x="897" y="341" width="1" height="74"/>
<rect x="895" y="352" width="5" height="17"/>
<rect x="905" y="350" width="1" height="7"/>
<rect x="905" y="368" width="1" height="27"/>
<rect x="903" y="357" width="5" height="11"/>
<rect x="904" y="358" width="3" height="9" fill="#fff"/>
<rect x="913" y="355" width="1" height="16"/>
<rect x="911" y="357" width="5" height="5"/>
<rect x="921" y="353" width="1" height="6"/>
<rect x="921" y="361" width="1" height="10"/>
<rect x="919" y="359" width="5" height="2"/>
<rect x="929" y="336" width="1" height="29"/>
<rect x="927" y="359" width="5" height="5"/>
<rect x="937" y="342" width="1" height="57"/>
<rect x="935" y="363" width="5" height="25"/>
<rect x="945" y="367" width="1" height="73"/>
<rect x="943" y="388" width="5" height="46"/>
<rect x="953" y="428" width="1" height="28"/>
<rect x="951" y="434" width="5" height="15"/>
<rect x="961" y="443" width="1" height="127"/>
<rect x="959" y="447" width="5" height="111"/>
<rect x="969" y="531" width="1" height="48"/>
<rect x="967" y="559" width="5" height="4"/>
<rect x="977" y="510" width="1" height="41"/>
<rect x="977" y="563" width="1" height="13"/>
<rect x="975" y="551" width="5" height="12"/>
<rect x="976" y="552" width="3" height="10" fill="#fff"/>
<rect x="985" y="522" width="1" height="16"/>
<rect x="985" y="550" width="1" height="26"/>
<rect x="983" y="538" width="5" height="12"/>
<rect x="984" y="539" width="3" height="10" fill="#fff"/>
<rect x="993" y="475" width="1" height="6"/>
<rect x="993" y="538" width="1" height="22"/>
<rect x="991" y="481" width="5" height="57"/>
<rect x="992" y="482" width="3" height="55" fill="#fff"/>
<rect x="1001" y="427" width="1" height="28"/>
<rect x="1001" y="479" width="1" height="8"/>
<rect x="999" y="455" width="5" height="24"/>
<rect x="1000" y="456" width="3" height="22" fill="#fff"/>
<rect x="1009" y="438" width="1" height="11"/>
<rect x="1009" y="454" width="1" height="10"/>
<rect x="1007" y="449" width="5" height="5"/>
<rect x="1008" y="450" width="3" height="3" fill="#fff"/>
<rect x="1017" y="444" width="1" height="29"/>
<rect x="1015" y="448" width="5" height="17"/>
<rect x="1025" y="455" width="1" height="37"/>
<rect x="1023" y="464" width="5" height="4"/>
<rect x="1033" y="360" width="1" height="7"/>
<rect x="1033" y="468" width="1" height="3"/>
<rect x="1031" y="367" width="5" height="101"/>
<rect x="1032" y="368" width="3" height="99" fill="#fff"/>
<rect x="1041" y="305" width="1" height="19"/>
<rect x="1041" y="368" width="1" height="7"/>
<rect x="1039" y="324" width="5" height="44"/>
<rect x="1040" y="325" width="3" height="42" fill="#fff"/>
<rect x="1049" y="308" width="1" height="4"/>
<rect x="1049" y="324" width="1" height="12"/>
<rect x="1047" y="312" width="5" height="12"/>
<rect x="1048" y="313" width="3" height="10" fill="#fff"/>
<rect x="1057" y="356" width="1" height="49"/>
<rect x="1055" y="356" width="5" height="28"/>
<rect x="1065" y="356" width="1" height="54"/>
<rect x="1063" y="384" width="5" height="17"/>
<rect x="1073" y="361" width="1" height="10"/>
<rect x="1071" y="371" width="5" height="31"/>
<rect x="1072" y="372" width="3" height="29" fill="#fff"/>
<rect x="1081" y="357" width="1" height="33"/>
<rect x="1079" y="369" width="5" height="5"/>
<rect x="1089" y="343" width="1" height="2"/>
<rect x="1089" y="374" width="1" height="15"/>
<rect x="1087" y="345" width="5" height="29"/>
<rect x="1088" y="346" width="3" height="27" fill="#fff"/>
<rect x="1097" y="322" width="1" height="75"/>
<rect x="1095" y="344" width="5" height="31"/>
<rect x="1105" y="319" width="1" height="5"/>
<rect x="1105" y="376" width="1" height="11"/>
<rect x="1103" y="324" width="5" height="52"/>
<rect x="1104" y="325" width="3" height="50" fill="#fff"/>
<rect x="1113" y="319" width="1" height="21"/>
<rect x="1111" y="322" width="5" height="12"/>
<rect x="1121" y="300" width="1" height="14"/>
<rect x="1121" y="332" width="1" height="7"/>
<rect x="1119" y="314" width="5" height="18"/>
<rect x="1120" y="315" width="3" height="16" fill="#fff"/>
<rect x="1129" y="303" width="1" height="77"/>
<rect x="1127" y="313" width="5" height="60"/>
<rect x="1137" y="334" width="1" height="71"/>
<rect x="1135" y="372" width="5" height="27"/>
<rect x="1145" y="383" width="1" height="65"/>
<rect x="1143" y="398" width="5" height="29"/>
<rect x="1153" y="399" width="1" height="2"/>
<rect x="1153" y="427" width="1" height="19"/>
<rect x="1151" y="401" width="5" height="26"/>
<rect x="1152" y="402" width="3" height="24" fill="#fff"/>
<rect x="1161" y="393" width="1" height="20"/>
<rect x="1159" y="401" width="5" height="2"/>
<rect x="1169" y="393" width="1" height="47"/>
<rect x="1167" y="402" width="5" height="20"/>
<rect x="1177" y="376" width="1" height="9"/>
<rect x="1177" y="422" width="1" height="9"/>
<rect x="1175" y="385" width="5" height="37"/>
<rect x="1176" y="386" width="3" height="35" fill="#fff"/>
<rect x="1185" y="352" width="1" height="5"/>
<rect x="1185" y="385" width="1" height="25"/>
<rect x="1183" y="357" width="5" height="28"/>
<rect x="1184" y="358" width="3" height="26" fill="#fff"/>
<rect x="1193" y="313" width="1" height="19"/>
<rect x="1193" y="357" width="1" height="11"/>
<rect x="1191" y="332" width="5" height="25"/>
<rect x="1192" y="333" width="3" height="23" fill="#fff"/>
<rect x="1201" y="317" width="1" height="28"/>
<rect x="1199" y="334" width="5" height="4"/>
<rect x="1209" y="326" width="1" height="3"/>
<rect x="1209" y="337" width="1" height="6"/>
<rect x="1207" y="329" width="5" height="8"/>
<rect x="1208" y="330" width="3" height="6" fill="#fff"/>
<rect x="1217" y="319" width="1" height="20"/>
<rect x="1215" y="330" width="5" height="3"/>
<rect x="1225" y="320" width="1" height="26"/>
<rect x="1223" y="332" width="5" height="9"/>
<rect x="1233" y="289" width="1" height="67"/>
<rect x="1231" y="340" width="5" height="15"/>
<rect x="1241" y="310" width="1" height="30"/>
<rect x="1241" y="354" width="1" height="16"/>
<rect x="1239" y="340" width="5" height="14"/>
<rect x="1240" y="341" width="3" height="12" fill="#fff"/>
<rect x="1249" y="331" width="1" height="3"/>
<rect x="1249" y="340" width="1" height="23"/>
<rect x="1247" y="334" width="5" height="6"/>
<rect x="1248" y="335" width="3" height="4" fill="#fff"/>
<rect x="1257" y="331" width="1" height="94"/>
<rect x="1255" y="333" width="5" height="59"/>
<rect x="1265" y="390" width="1" height="5"/>
<rect x="1263" y="360" width="5" height="30"/>
<rect x="1264" y="361" width="3" height="28" fill="#fff"/>
<rect x="1273" y="347" width="1" height="50"/>
<rect x="1271" y="359" width="5" height="30"/>
<rect x="1281" y="371" width="1" height="54"/>
<rect x="1279" y="389" width="5" height="34"/>
<rect x="1289" y="366" width="1" height="44"/>
<rect x="1289" y="422" width="1" height="5"/>
<rect x="1287" y="410" width="5" height="12"/>
<rect x="1288" y="411" width="3" height="10" fill="#fff"/>
<rect x="1297" y="368" width="1" height="12"/>
<rect x="1297" y="409" width="1" height="1"/>
<rect x="1295" y="380" width="5" height="29"/>
<rect x="1296" y="381" width="3" height="27" fill="#fff"/>
<rect x="1305" y="391" width="1" height="37"/>
<rect x="1303" y="391" width="5" height="27"/>
<rect x="1313" y="414" width="1" height="26"/>
<rect x="1311" y="418" width="5" height="11"/>
<rect x="1321" y="401" width="1" height="41"/>
<rect x="1319" y="428" width="5" height="12"/>
<rect x="1329" y="425" width="1" height="6"/>
<rect x="1329" y="439" width="1" height="29"/>
<rect x="1327" y="431" width="5" height="8"/>
<rect x="1328" y="432" width="3" height="6" fill="#fff"/>
<rect x="1337" y="377" width="1" height="68"/>
<rect x="1335" y="430" width="5" height="9"/>
<rect x="1345" y="424" width="1" height="53"/>
<rect x="1343" y="438" width="5" height="30"/>
<rect x="1353" y="464" width="1" height="42"/>
<rect x="1351" y="468" width="5" height="32"/>
<rect x="1361" y="472" width="1" height="22"/>
<rect x="1361" y="499" width="1" height="3"/>
<rect x="1359" y="494" width="5" height="5"/>
<rect x="1360" y="495" width="3" height="3" fill="#fff"/>
<rect x="1369" y="494" width="1" height="65"/>
<rect x="1367" y="494" width="5" height="43"/>
<rect x="1377" y="535" width="1" height="3"/>
<rect x="1375" y="467" width="5" height="68"/>
<rect x="1376" y="468" width="3" height="66" fill="#fff"/>
<rect x="1385" y="453" width="1" height="71"/>
<rect x="1383" y="467" width="5" height="20"/>
<rect x="1393" y="402" width="1" height="58"/>
<rect x="1393" y="486" width="1" height="38"/>
<rect x="1391" y="460" width="5" height="26"/>
<rect x="1392" y="461" width="3" height="24" fill="#fff"/>
<rect x="1401" y="441" width="1" height="88"/>
<rect x="1399" y="461" width="5" height="68"/>
<rect x="1409" y="528" width="1" height="1"/>
<rect x="1407" y="528" width="5" height="1"/>
</g>
</g>
<!-- MACD -->
<g clip-path="url(#cd)">
<g fill="#c0c0c0">
<rect x="1" y="655" width="1" height="22"/>
<rect x="9" y="655" width="1" height="21"/>
<rect x="17" y="655" width="1" height="19"/>
<rect x="25" y="655" width="1" height="17"/>
<rect x="33" y="655" width="1" height="20"/>
<rect x="41" y="655" width="1" height="20"/>
<rect x="49" y="655" width="1" height="17"/>
<rect x="57" y="655" width="1" height="9"/>
<rect x="65" y="655" width="1" height="4"/>
<rect x="73" y="652" width="1" height="3"/>
<rect x="81" y="647" width="1" height="8"/>
<rect x="89" y="647" width="1" height="8"/>
<rect x="97" y="643" width="1" height="12"/>
<rect x="105" y="637" width="1" height="18"/>
<rect x="113" y="632" width="1" height="23"/>
<rect x="121" y="628" width="1" height="27"/>
<rect x="129" y="624" width="1" height="31"/>
<rect x="137" y="622" width="1" height="33"/>
<rect x="145" y="619" width="1" height="36"/>
<rect x="153" y="617" width="1" height="38"/>
<rect x="161" y="613" width="1" height="42"/>
<rect x="169" y="611" width="1" height="44"/>
<rect x="177" y="609" width="1" height="46"/>
<rect x="185" y="607" width="1" height="48"/>
<rect x="193" y="607" width="1" height="48"/>
<rect x="201" y="605" width="1" height="50"/>
<rect x="209" y="603" width="1" height="52"/>
<rect x="217" y="603" width="1" height="52"/>
<rect x="225" y="603" width="1" height="52"/>
<rect x="233" y="605" width="1" height="50"/>
<rect x="241" y="609" width="1" height="46"/>
<rect x="249" y="615" width="1" height="40"/>
<rect x="257" y="620" width="1" height="35"/>
<rect x="265" y="624" width="1" height="31"/>
<rect x="273" y="627" width="1" height="28"/>
<rect x="281" y="636" width="1" height="19"/>
<rect x="289" y="644" width="1" height="11"/>
<rect x="297" y="645" width="1" height="10"/>
<rect x="305" y="647" width="1" height="8"/>
<rect x="313" y="649" width="1" height="6"/>
<rect x="321" y="651" width="1" height="4"/>
<rect x="329" y="652" width="1" height="3"/>
<rect x="337" y="654" width="1" height="1"/>
<rect x="345" y="654" width="1" height="1"/>
<rect x="353" y="652" width="1" height="3"/>
<rect x="361" y="652" width="1" height="3"/>
<rect x="369" y="653" width="1" height="2"/>
<rect x="377" y="654" width="1" height="1"/>
<rect x="385" y="655" width="1" height="0"/>
<rect x="393" y="653" width="1" height="2"/>
<rect x="401" y="651" width="1" height="4"/>
<rect x="409" y="646" width="1" height="9"/>
<rect x="417" y="641" width="1" height="14"/>
<rect x="425" y="638" width="1" height="17"/>
<rect x="433" y="634" width="1" height="21"/>
<rect x="441" y="629" width="1" height="26"/>
<rect x="449" y="627" width="1" height="28"/>
<rect x="457" y="624" width="1" height="31"/>
<rect x="465" y="623" width="1" height="32"/>
<rect x="473" y="621" width="1" height="34"/>
<rect x="481" y="621" width="1" height="34"/>
<rect x="489" y="623" width="1" height="32"/>
<rect x="497" y="631" width="1" height="24"/>
<rect x="505" y="639" width="1" height="16"/>
<rect x="513" y="646" width="1" height="9"/>
<rect x="521" y="652" width="1" height="3"/>
<rect x="529" y="655" width="1" height="2"/>
<rect x="537" y="655" width="1" height="2"/>
<rect x="545" y="655" width="1" height="10"/>
<rect x="553" y="655" width="1" height="17"/>
<rect x="561" y="655" width="1" height="21"/>
<rect x="569" y="655" width="1" height="24"/>
<rect x="577" y="655" width="1" height="26"/>
<rect x="585" y="655" width="1" height="32"/>
<rect x="593" y="655" width="1" height="39"/>
<rect x="601" y="655" width="1" height="41"/>
<rect x="609" y="655" width="1" height="41"/>
<rect x="617" y="655" width="1" height="41"/>
<rect x="625" y="655" width="1" height="42"/>
<rect x="633" y="655" width="1" height="35"/>
<rect x="641" y="655" width="1" height="28"/>
<rect x="649" y="655" width="1" height="23"/>
<rect x="657" y="655" width="1" height="20"/>
<rect x="665" y="655" width="1" height="17"/>
<rect x="673" y="655" width="1" height="14"/>
<rect x="681" y="655" width="1" height="11"/>
<rect x="689" y="655" width="1" height="13"/>
<rect x="697" y="655" width="1" height="10"/>
<rect x="705" y="655" width="1" height="9"/>
<rect x="713" y="655" width="1" height="9"/>
<rect x="721" y="655" width="1" height="8"/>
<rect x="729" y="655" width="1" height="9"/>
<rect x="737" y="655" width="1" height="13"/>
<rect x="745" y="655" width="1" height="18"/>
<rect x="753" y="655" width="1" height="23"/>
<rect x="761" y="655" width="1" height="24"/>
<rect x="769" y="655" width="1" height="24"/>
<rect x="777" y="655" width="1" height="26"/>
<rect x="785" y="655" width="1" height="30"/>
<rect x="793" y="655" width="1" height="31"/>
<rect x="801" y="655" width="1" height="34"/>
<rect x="809" y="655" width="1" height="38"/>
<rect x="817" y="655" width="1" height="38"/>
<rect x="825" y="655" width="1" height="35"/>
<rect x="833" y="655" width="1" height="37"/>
<rect x="841" y="655" width="1" height="40"/>
<rect x="849" y="655" width="1" height="44"/>
<rect x="857" y="655" width="1" height="49"/>
<rect x="865" y="655" width="1" height="53"/>
<rect x="873" y="655" width="1" height="56"/>
<rect x="881" y="655" width="1" height="51"/>
<rect x="889" y="655" width="1" height="50"/>
<rect x="897" y="655" width="1" height="50"/>
<rect x="905" y="655" width="1" height="48"/>
<rect x="913" y="655" width="1" height="47"/>
<rect x="921" y="655" width="1" height="45"/>
<rect x="929" y="655" width="1" height="43"/>
<rect x="937" y="655" width="1" height="44"/>
<rect x="945" y="655" width="1" height="49"/>
<rect x="953" y="655" width="1" height="53"/>
<rect x="961" y="655" width="1" height="68"/>
<rect x="969" y="655" width="1" height="79"/>
<rect x="977" y="655" width="1" height="85"/>
<rect x="985" y="655" width="1" height="88"/>
<rect x="993" y="655" width="1" height="83"/>
<rect x="1001" y="655" width="1" height="76"/>
<rect x="1009" y="655" width="1" height="69"/>
<rect x="1017" y="655" width="1" height="64"/>
<rect x="1025" y="655" width="1" height="60"/>
<rect x="1033" y="655" width="1" height="46"/>
<rect x="1041" y="655" width="1" height="29"/>
<rect x="1049" y="655" width="1" height="15"/>
<rect x="1057" y="655" width="1" height="11"/>
<rect x="1065" y="655" width="1" height="10"/>
<rect x="1073" y="655" width="1" height="5"/>
<rect x="1081" y="655" width="1" height="2"/>
<rect x="1089" y="652" width="1" height="3"/>
<rect x="1097" y="651" width="1" height="4"/>
<rect x="1105" y="644" width="1" height="11"/>
<rect x="1113" y="641" width="1" height="14"/>
<rect x="1121" y="636" width="1" height="19"/>
<rect x="1129" y="639" width="1" height="16"/>
<rect x="1137" y="643" width="1" height="12"/>
<rect x="1145" y="650" width="1" height="5"/>
<rect x="1153" y="653" width="1" height="2"/>
<rect x="1161" y="655" width="1" height="0"/>
<rect x="1169" y="655" width="1" height="4"/>
<rect x="1177" y="655" width="1" height="3"/>
<rect x="1185" y="655" width="1" height="0"/>
<rect x="1193" y="649" width="1" height="6"/>
<rect x="1201" y="646" width="1" height="9"/>
<rect x="1209" y="642" width="1" height="13"/>
<rect x="1217" y="640" width="1" height="15"/>
<rect x="1225" y="639" width="1" height="16"/>
<rect x="1233" y="640" width="1" height="15"/>
<rect x="1241" y="640" width="1" height="15"/>
<rect x="1249" y="639" width="1" height="16"/>
<rect x="1257" y="644" width="1" height="11"/>
<rect x="1265" y="645" width="1" height="10"/>
<rect x="1273" y="649" width="1" height="6"/>
<rect x="1281" y="655" width="1" height="1"/>
<rect x="1289" y="655" width="1" height="5"/>
<rect x="1297" y="655" width="1" height="5"/>
<rect x="1305" y="655" width="1" height="8"/>
<rect x="1313" y="655" width="1" height="12"/>
<rect x="1321" y="655" width="1" height="17"/>
<rect x="1329" y="655" width="1" height="19"/>
<rect x="1337" y="655" width="1" height="21"/>
<rect x="1345" y="655" width="1" height="25"/>
<rect x="1353" y="655" width="1" height="32"/>
<rect x="1361" y="655" width="1" height="36"/>
<rect x="1369" y="655" width="1" height="43"/>
<rect x="1377" y="655" width="1" height="41"/>
<rect x="1385" y="655" width="1" height="41"/>
<rect x="1393" y="655" width="1" height="38"/>
<rect x="1401" y="655" width="1" height="42"/>
<rect x="1409" y="655" width="1" height="45"/>
</g>
<polyline points="-7.0,683.5 1.0,683.0 9.0,682.6 17.0,682.2 25.0,681.2 33.0,680.2 41.0,679.1 49.0,677.0 57.0,674.9 65.0,672.3 73.0,668.7 81.0,665.5 89.0,662.5 97.0,659.3 105.0,655.1 113.0,650.2 121.0,645.3 129.0,640.9 137.0,636.8 145.0,633.2 153.0,629.9 161.0,626.2 169.0,622.6 177.0,619.4 185.0,616.7 193.0,614.4 201.0,612.3 209.0,610.2 217.0,608.4 225.0,606.8 233.0,605.9 241.0,605.7 249.0,606.4 257.0,607.8 265.0,609.7 273.0,612.1 281.0,615.8 289.0,620.4 297.0,625.0 305.0,629.7 313.0,634.1 321.0,638.1 329.0,641.8 337.0,645.1 345.0,648.1 353.0,649.8 361.0,650.7 369.0,651.7 377.0,652.5 385.0,653.2 393.0,653.4 401.0,653.2 409.0,652.3 417.0,650.9 425.0,649.4 433.0,647.4 441.0,644.7 449.0,641.6 457.0,638.1 465.0,634.7 473.0,631.4 481.0,628.6 489.0,626.6 497.0,625.9 505.0,626.4 513.0,628.3 521.0,631.2 529.0,634.9 537.0,638.7 545.0,643.5 553.0,649.2 561.0,655.1 569.0,660.4 577.0,665.1 585.0,669.6 593.0,674.2 601.0,678.6 609.0,683.0 617.0,686.5 625.0,689.3 633.0,690.8 641.0,691.3 649.0,691.0 657.0,689.6 665.0,687.2 673.0,684.1 681.0,680.7 689.0,677.5 697.0,674.0 705.0,671.0 713.0,668.9 721.0,667.2 729.0,665.9 737.0,665.5 745.0,666.0 753.0,667.3 761.0,668.5 769.0,670.1 777.0,672.1 785.0,674.4 793.0,676.9 801.0,679.8 809.0,682.6 817.0,684.7 825.0,686.0 833.0,687.5 841.0,689.2 849.0,691.1 857.0,693.2 865.0,695.7 873.0,698.1 881.0,699.5 889.0,700.9 897.0,702.6 905.0,703.8 913.0,704.6 921.0,704.7 929.0,704.1 937.0,703.1 945.0,702.3 953.0,702.6 961.0,704.6 969.0,707.8 977.0,711.9 985.0,716.5 993.0,720.9 1001.0,724.5 1009.0,727.3 1017.0,729.0 1025.0,729.7 1033.0,727.2 1041.0,721.7 1049.0,713.9 1057.0,705.4 1065.0,697.2 1073.0,689.3 1081.0,681.9 1089.0,674.4 1097.0,667.3 1105.0,661.1 1113.0,656.2 1121.0,652.4 1129.0,649.4 1137.0,647.0 1145.0,645.9 1153.0,645.5 1161.0,645.8 1169.0,646.8 1177.0,648.3 1185.0,649.9 1193.0,651.3 1201.0,652.1 1209.0,652.0 1217.0,650.8 1225.0,649.3 1233.0,647.6 1241.0,645.4 1249.0,643.3 1257.0,642.1 1265.0,641.7 1273.0,642.1 1281.0,643.6 1289.0,645.8 1297.0,648.1 1305.0,650.7 1313.0,653.7 1321.0,657.4 1329.0,660.7 1337.0,664.1 1345.0,667.6 1353.0,671.0 1361.0,674.5 1369.0,678.8 1377.0,682.5 1385.0,685.7 1393.0,688.1 1401.0,690.7 1409.0,693.4" fill="none" stroke="#ff0000" stroke-width="1" stroke-dasharray="3,3" shape-rendering="crispEdges"/>
</g>
<!-- RSI -->
<g clip-path="url(#cr)">
<g fill="none" stroke="#c0c0c0" stroke-dasharray="3,3">
<line x1="0" y1="788.5" x2="1652" y2="788.5"/>
<line x1="0" y1="839.5" x2="1652" y2="839.5"/>
<line x1="0" y1="900.5" x2="1652" y2="900.5"/>
</g>
<polyline points="-7.0,850.0 1.0,847.0 9.0,843.0 17.0,841.7 25.0,841.7 33.0,849.5 41.0,846.0 49.0,838.9 57.0,831.3 65.0,831.7 73.0,827.5 81.0,829.2 89.0,835.9 97.0,830.2 105.0,823.6 113.0,821.9 121.0,821.9 129.0,820.7 137.0,822.6 145.0,818.7 153.0,817.6 161.0,813.0 169.0,812.3 177.0,812.3 185.0,810.2 193.0,812.6 201.0,807.1 209.0,805.7 217.0,805.5 225.0,807.3 233.0,814.2 241.0,824.0 249.0,836.1 257.0,832.2 265.0,834.1 273.0,832.8 281.0,854.9 289.0,858.1 297.0,835.6 305.0,843.0 313.0,839.6 321.0,845.2 329.0,840.9 337.0,844.4 345.0,837.3 353.0,831.8 361.0,839.4 369.0,841.7 377.0,842.8 385.0,841.1 393.0,833.7 401.0,828.3 409.0,817.8 417.0,816.6 425.0,818.3 433.0,813.2 441.0,806.8 449.0,812.5 457.0,809.0 465.0,814.9 473.0,811.7 481.0,814.8 489.0,826.2 497.0,850.5 505.0,854.7 513.0,856.9 521.0,856.4 529.0,857.5 537.0,840.0 545.0,864.8 553.0,865.5 561.0,862.0 569.0,861.5 577.0,861.8 585.0,873.0 593.0,876.7 601.0,869.8 609.0,860.5 617.0,862.4 625.0,865.1 633.0,839.0 641.0,835.3 649.0,838.7 657.0,840.5 665.0,839.7 673.0,837.4 681.0,838.7 689.0,851.5 697.0,837.7 705.0,840.7 713.0,845.4 721.0,841.4 729.0,847.0 737.0,859.0 745.0,864.1 753.0,865.7 761.0,855.1 769.0,856.3 777.0,859.7 785.0,867.3 793.0,861.4 801.0,868.1 809.0,872.2 817.0,857.7 825.0,849.1 833.0,862.0 841.0,865.8 849.0,869.9 857.0,874.4 865.0,876.6 873.0,876.2 881.0,850.9 889.0,858.2 897.0,861.5 905.0,857.1 913.0,858.3 921.0,857.1 929.0,858.5 937.0,864.9 945.0,874.9 953.0,877.6 961.0,892.0 969.0,892.5 977.0,887.5 985.0,882.0 993.0,861.4 1001.0,853.5 1009.0,851.7 1017.0,855.3 1025.0,856.0 1033.0,829.2 1041.0,821.1 1049.0,819.0 1057.0,836.9 1065.0,840.6 1073.0,834.3 1081.0,835.0 1089.0,828.9 1097.0,836.3 1105.0,826.2 1113.0,828.7 1121.0,824.8 1129.0,839.0 1137.0,844.5 1145.0,850.0 1153.0,843.9 1161.0,843.9 1169.0,848.4 1177.0,839.3 1185.0,833.1 1193.0,827.9 1201.0,829.5 1209.0,827.5 1217.0,828.7 1225.0,831.2 1233.0,835.7 1241.0,831.5 1249.0,829.8 1257.0,847.3 1265.0,838.1 1273.0,845.8 1281.0,853.7 1289.0,849.8 1297.0,841.2 1305.0,850.4 1313.0,852.8 1321.0,855.3 1329.0,852.4 1337.0,854.3 1345.0,861.2 1353.0,867.8 1361.0,865.5 1369.0,873.6 1377.0,850.6 1385.0,854.8 1393.0,847.3 1401.0,860.6 1409.0,860.6" fill="none" stroke="#1e90ff" stroke-width="1" shape-rendering="crispEdges"/>
</g>
<g shape-rendering="auto" font-family="Liberation Sans">
<rect x="1224" y="288" width="10" height="1" fill="#ff0000"/>
<rect x="1162.5" y="279.5" width="61" height="18" fill="#fff" stroke="#ff0000" stroke-width="1"/><text x="1163.6" y="295.2" font-size="17" fill="#ff0000" textLength="58.7" lengthAdjust="spacingAndGlyphs">34144.3</text>
<rect x="1210" y="511" width="8" height="1" fill="#ff0000"/><rect x="1217.5" y="509.5" width="2.5" height="3" fill="#fff" stroke="#ff0000" stroke-width="1"/>
<rect x="1220.5" y="499.5" width="73" height="24" fill="#fff" stroke="#ff0000" stroke-width="1"/><text x="1221.6" y="520.3" font-size="22.6" fill="#ff0000" textLength="70.8" lengthAdjust="spacingAndGlyphs">32627.8</text>
<rect x="960" y="577" width="10" height="1" fill="#ff0000"/>
<rect x="898.5" y="568.5" width="61" height="18" fill="#fff" stroke="#ff0000" stroke-width="1"/><text x="899.7" y="584.2" font-size="17" fill="#ff0000" textLength="58.6" lengthAdjust="spacingAndGlyphs">32172.7</text>
<rect x="1362" y="559" width="8" height="1" fill="#ff0000"/><rect x="1359.5" y="557.5" width="2.5" height="3" fill="#fff" stroke="#ff0000" stroke-width="1"/>
<rect x="1298.5" y="550.5" width="61" height="18" fill="#fff" stroke="#ff0000" stroke-width="1"/><text x="1299.7" y="566.2" font-size="17" fill="#ff0000" textLength="58.6" lengthAdjust="spacingAndGlyphs">32301.4</text>
</g>
<g shape-rendering="auto" font-family="Liberation Sans" clip-path="url(#cm)">
<defs><linearGradient id="rtop" x1="0" y1="0" x2="0" y2="1"><stop offset="0" stop-color="#f65555"/><stop offset="1" stop-color="#e23636"/></linearGradient><linearGradient id="rbot" gradientUnits="userSpaceOnUse" x1="0" y1="69" x2="0" y2="102"><stop offset="0" stop-color="#dc2e2e"/><stop offset="1" stop-color="#b00404"/></linearGradient><linearGradient id="gbtn" x1="0" y1="0" x2="0" y2="1"><stop offset="0" stop-color="#f0f0f0"/><stop offset="0.45" stop-color="#e4e4e4"/><stop offset="0.5" stop-color="#d6d6d6"/><stop offset="1" stop-color="#d0d0d0"/></linearGradient></defs>
<rect x="0" y="43" width="217" height="61" fill="#fff"/>
<rect x="0" y="45" width="48" height="25" fill="url(#rtop)"/><rect x="0" y="45" width="48" height="1" fill="#b80000"/><rect x="47" y="45" width="1" height="25" fill="#b80000"/>
<rect x="0" y="68" width="44" height="1" fill="#8a0000"/><rect x="0" y="69" width="44" height="1" fill="#f08080"/>
<rect x="0" y="69" width="105" height="33" fill="url(#rbot)"/><rect x="47" y="69" width="58" height="1" fill="#b80000"/><rect x="104" y="69" width="1" height="33" fill="#a00000"/>
<rect x="163" y="45" width="52" height="25" fill="url(#rtop)"/><rect x="163" y="45" width="52" height="1" fill="#b80000"/><rect x="163" y="45" width="1" height="25" fill="#b80000"/><rect x="214" y="45" width="1" height="57" fill="#a00000"/>
<rect x="107" y="69" width="108" height="33" fill="url(#rbot)"/><rect x="107" y="69" width="57" height="1" fill="#b80000"/><rect x="107" y="69" width="1" height="33" fill="#b80000"/>
<rect x="167" y="68" width="44" height="1" fill="#8a0000"/><rect x="167" y="69" width="44" height="1" fill="#f08080"/>
<g fill="#fff" font-family="Liberation Sans"><text x="8.3" y="61" font-size="12" textLength="25.6" lengthAdjust="spacingAndGlyphs">SELL</text><text x="176.5" y="61" font-size="12" textLength="23.5" lengthAdjust="spacingAndGlyphs">BUY</text><text x="12.3" y="97" font-size="12.5" font-weight="bold" textLength="34.5" lengthAdjust="spacingAndGlyphs">32501</text><text x="122.3" y="97" font-size="12.5" font-weight="bold" textLength="34.5" lengthAdjust="spacingAndGlyphs">32510</text><rect x="51.5" y="93" width="3.5" height="4"/><rect x="161.8" y="93" width="3.5" height="4"/><text x="57.5" y="97" font-size="32.5" stroke="url(#rbot)" stroke-width="0.8">5</text><text x="168.2" y="97" font-size="32.5" stroke="url(#rbot)" stroke-width="0.8">5</text></g>
<rect x="50.5" y="45.5" width="110" height="21" fill="#fff" stroke="#a8a8ae" stroke-width="1"/>
<rect x="51.5" y="46.5" width="19" height="19" fill="url(#gbtn)" stroke="#c8c8cc" stroke-width="1"/><rect x="71" y="46" width="1" height="20" fill="#a8a8ae"/>
<rect x="139.5" y="46.5" width="20" height="19" fill="url(#gbtn)" stroke="#c8c8cc" stroke-width="1"/><rect x="139" y="46" width="1" height="20" fill="#a8a8ae"/>
<path d="M58,54.3 L63.5,54.3 L60.75,57 Z" fill="#4858c0"/><path d="M147,57 L152.5,57 L149.75,54.3 Z" fill="#4858c0"/>
<text x="112.3" y="60" font-size="12.8" fill="#000" textLength="23" lengthAdjust="spacingAndGlyphs">1.00</text>
</g>
<g shape-rendering="auto">
<line x1="1241.5" y1="307.5" x2="1362.9" y2="540.6" stroke="#ff0000" stroke-width="3.4" stroke-linecap="round"/><path d="M1367.5,549.5 L1357.1,541.4 L1363.3,541.5 L1366.8,536.3 Z" fill="#ff0000"/>
<line x1="1369" y1="541" x2="1387.8" y2="415.4" stroke="#ff0000" stroke-width="3.4" stroke-linecap="round"/><path d="M1389.3,405.5 L1393.0,418.2 L1388.0,414.4 L1382.1,416.6 Z" fill="#ff0000"/>
<line x1="1389.5" y1="408" x2="1412.8" y2="544.1" stroke="#ff0000" stroke-width="3.4" stroke-linecap="round"/><path d="M1414.5,554.0 L1407.1,543.1 L1413.0,545.1 L1417.9,541.2 Z" fill="#ff0000"/>
<line x1="1327.5" y1="674.5" x2="1427.3" y2="700.0" stroke="#ff0000" stroke-width="3.6" stroke-linecap="round"/><path d="M1437.0,702.5 L1423.9,705.1 L1428.3,700.3 L1426.8,694.0 Z" fill="#ff0000"/>
<line x1="1314.5" y1="844.3" x2="1412.1" y2="856.4" stroke="#ff0000" stroke-width="3" stroke-linecap="round"/><path d="M1421.0,857.5 L1409.5,860.9 L1413.1,856.5 L1410.7,851.4 Z" fill="#ff0000"/>
</g>
<g font-family="Liberation Sans" font-size="9.8" fill="#000" shape-rendering="auto"><path d="M0,33 L3,37 L0,37 Z" fill="#000"/><text x="8.6" y="37" xml:space="preserve" textLength="185" lengthAdjust="spacingAndGlyphs">DJ30-,H4  32512.0 32518.0 32503.0 32503.0</text><text x="-1" y="607" textLength="131.5" lengthAdjust="spacingAndGlyphs">MACD(12,26,9) -237.82 -202.61</text><text x="-1.2" y="765" textLength="66.5" lengthAdjust="spacingAndGlyphs">RSI(14) 37.5729</text></g>
<g class="ax" fill="#000" shape-rendering="auto">
<rect x="1653" y="28" width="2" height="1"/>
<text x="1657.6" y="32" textLength="33.4" lengthAdjust="spacingAndGlyphs">35918.5</text>
<rect x="1653" y="61" width="2" height="1"/>
<text x="1657.6" y="65" textLength="33.4" lengthAdjust="spacingAndGlyphs">35691.0</text>
<rect x="1653" y="94" width="2" height="1"/>
<text x="1657.6" y="98" textLength="33.4" lengthAdjust="spacingAndGlyphs">35463.5</text>
<rect x="1653" y="127" width="2" height="1"/>
<text x="1657.6" y="131" textLength="33.4" lengthAdjust="spacingAndGlyphs">35242.5</text>
<rect x="1653" y="160" width="2" height="1"/>
<text x="1657.6" y="164" textLength="33.4" lengthAdjust="spacingAndGlyphs">35015.0</text>
<rect x="1653" y="193" width="2" height="1"/>
<text x="1657.6" y="197" textLength="33.4" lengthAdjust="spacingAndGlyphs">34794.0</text>
<rect x="1653" y="226" width="2" height="1"/>
<text x="1657.6" y="230" textLength="33.4" lengthAdjust="spacingAndGlyphs">34566.5</text>
<rect x="1653" y="259" width="2" height="1"/>
<text x="1657.6" y="263" textLength="33.4" lengthAdjust="spacingAndGlyphs">34339.0</text>
<rect x="1653" y="292" width="2" height="1"/>
<text x="1657.6" y="296" textLength="33.4" lengthAdjust="spacingAndGlyphs">34118.0</text>
<rect x="1653" y="325" width="2" height="1"/>
<text x="1657.6" y="329" textLength="33.4" lengthAdjust="spacingAndGlyphs">33890.5</text>
<rect x="1653" y="358" width="2" height="1"/>
<text x="1657.6" y="362" textLength="33.4" lengthAdjust="spacingAndGlyphs">33669.5</text>
<rect x="1653" y="391" width="2" height="1"/>
<text x="1657.6" y="395" textLength="33.4" lengthAdjust="spacingAndGlyphs">33442.0</text>
<rect x="1653" y="424" width="2" height="1"/>
<text x="1657.6" y="428" textLength="33.4" lengthAdjust="spacingAndGlyphs">33221.0</text>
<rect x="1653" y="457" width="2" height="1"/>
<text x="1657.6" y="461" textLength="33.4" lengthAdjust="spacingAndGlyphs">32993.5</text>
<rect x="1653" y="490" width="2" height="1"/>
<text x="1657.6" y="494" textLength="33.4" lengthAdjust="spacingAndGlyphs">32766.0</text>
<rect x="1653" y="523" width="2" height="1"/>
<text x="1657.6" y="527" textLength="33.4" lengthAdjust="spacingAndGlyphs">32545.0</text>
<rect x="1653" y="556" width="2" height="1"/>
<text x="1657.6" y="560" textLength="33.4" lengthAdjust="spacingAndGlyphs">32317.5</text>
<rect x="1653" y="589" width="2" height="1"/>
<text x="1657.6" y="593" textLength="33.4" lengthAdjust="spacingAndGlyphs">32096.5</text>
<text x="-6.5" y="939" textLength="50.2" lengthAdjust="spacingAndGlyphs">27 Jan 2022</text>
<rect x="57" y="927" width="1" height="3"/>
<text x="57" y="939" textLength="52.7" lengthAdjust="spacingAndGlyphs">28 Jan 20:00</text>
<rect x="121" y="927" width="1" height="3"/>
<text x="121" y="939" textLength="48.6" lengthAdjust="spacingAndGlyphs">1 Feb 00:00</text>
<rect x="185" y="927" width="1" height="3"/>
<text x="185" y="939" textLength="48.6" lengthAdjust="spacingAndGlyphs">2 Feb 08:00</text>
<rect x="249" y="927" width="1" height="3"/>
<text x="249" y="939" textLength="48.6" lengthAdjust="spacingAndGlyphs">3 Feb 16:00</text>
<rect x="313" y="927" width="1" height="3"/>
<text x="313" y="939" textLength="48.6" lengthAdjust="spacingAndGlyphs">6 Feb 23:00</text>
<rect x="377" y="927" width="1" height="3"/>
<text x="377" y="939" textLength="48.6" lengthAdjust="spacingAndGlyphs">8 Feb 04:00</text>
<rect x="441" y="927" width="1" height="3"/>
<text x="441" y="939" textLength="48.6" lengthAdjust="spacingAndGlyphs">9 Feb 12:00</text>
<rect x="505" y="927" width="1" height="3"/>
<text x="505" y="939" textLength="53.7" lengthAdjust="spacingAndGlyphs">10 Feb 20:00</text>
<rect x="569" y="927" width="1" height="3"/>
<text x="569" y="939" textLength="53.7" lengthAdjust="spacingAndGlyphs">14 Feb 00:00</text>
<rect x="633" y="927" width="1" height="3"/>
<text x="633" y="939" textLength="53.7" lengthAdjust="spacingAndGlyphs">15 Feb 08:00</text>
<rect x="697" y="927" width="1" height="3"/>
<text x="697" y="939" textLength="53.7" lengthAdjust="spacingAndGlyphs">16 Feb 16:00</text>
<rect x="761" y="927" width="1" height="3"/>
<text x="761" y="939" textLength="53.7" lengthAdjust="spacingAndGlyphs">18 Feb 00:00</text>
<rect x="825" y="927" width="1" height="3"/>
<text x="825" y="939" textLength="53.7" lengthAdjust="spacingAndGlyphs">21 Feb 04:00</text>
<rect x="889" y="927" width="1" height="3"/>
<text x="889" y="939" textLength="53.7" lengthAdjust="spacingAndGlyphs">22 Feb 12:00</text>
<rect x="953" y="927" width="1" height="3"/>
<text x="953" y="939" textLength="53.7" lengthAdjust="spacingAndGlyphs">23 Feb 20:00</text>
<rect x="1017" y="927" width="1" height="3"/>
<text x="1017" y="939" textLength="53.7" lengthAdjust="spacingAndGlyphs">25 Feb 04:00</text>
<rect x="1081" y="927" width="1" height="3"/>
<text x="1081" y="939" textLength="53.7" lengthAdjust="spacingAndGlyphs">28 Feb 08:00</text>
<rect x="1145" y="927" width="1" height="3"/>
<text x="1145" y="939" textLength="48.6" lengthAdjust="spacingAndGlyphs">1 Mar 16:00</text>
<rect x="1209" y="927" width="1" height="3"/>
<text x="1209" y="939" textLength="48.6" lengthAdjust="spacingAndGlyphs">3 Mar 00:00</text>
<rect x="1273" y="927" width="1" height="3"/>
<text x="1273" y="939" textLength="48.6" lengthAdjust="spacingAndGlyphs">4 Mar 08:00</text>
<rect x="1337" y="927" width="1" height="3"/>
<text x="1337" y="939" textLength="48.6" lengthAdjust="spacingAndGlyphs">7 Mar 12:00</text>
<rect x="1401" y="927" width="1" height="3"/>
<text x="1401" y="939" textLength="48.6" lengthAdjust="spacingAndGlyphs">8 Mar 20:00</text>
</g>
<g shape-rendering="auto" font-family="Liberation Sans"><rect x="1654" y="445" width="41" height="11" fill="#ff0000"/><text x="1657.6" y="454" font-size="9.8" fill="#fff" textLength="33.4" lengthAdjust="spacingAndGlyphs">33035.8</text>
<rect x="1654" y="477" width="41" height="11" fill="#ff0000"/><text x="1657.6" y="486" font-size="9.8" fill="#fff" textLength="33.4" lengthAdjust="spacingAndGlyphs">32818.2</text>
<rect x="1654" y="505" width="41" height="11" fill="#32cd32"/><text x="1657.6" y="514" font-size="9.8" fill="#fff" textLength="33.4" lengthAdjust="spacingAndGlyphs">32627.8</text>
<rect x="1654" y="524" width="41" height="11" fill="#000000"/><text x="1657.6" y="533" font-size="9.8" fill="#fff" textLength="33.4" lengthAdjust="spacingAndGlyphs">32503.0</text>
<rect x="1654" y="547" width="41" height="11" fill="#0000ff"/><text x="1657.6" y="556" font-size="9.8" fill="#fff" textLength="33.4" lengthAdjust="spacingAndGlyphs">32342.2</text>
<rect x="1654" y="578" width="41" height="11" fill="#0000ff"/><text x="1657.6" y="587" font-size="9.8" fill="#fff" textLength="33.4" lengthAdjust="spacingAndGlyphs">32131.4</text>
<rect x="1647.5" y="480.5" width="4" height="4" fill="#fff" stroke="#ff0000" stroke-width="1"/>
<rect x="1647.5" y="508.5" width="4" height="4" fill="#fff" stroke="#32cd32" stroke-width="1"/>
<rect x="1647.5" y="581.5" width="4" height="4" fill="#fff" stroke="#0000ff" stroke-width="1"/>
<path d="M1413.5,26 L1423.5,26 L1418.5,31 Z" fill="#c0c0c0"/>
<rect x="1653" y="596" width="2" height="1" fill="#000"/><text x="1657.5" y="604" font-size="9.8" fill="#000">314.66</text>
<text x="1657.5" y="658.8" font-size="9.8" fill="#000">0.00</text>
<rect x="1653" y="749" width="2" height="1" fill="#000"/><text x="1657.5" y="746.5" font-size="9.8" fill="#000">-501.64</text>
<rect x="1653" y="754" width="2" height="1" fill="#000"/><text x="1657.5" y="762" font-size="9.8" fill="#000">100</text>
<text x="1657.5" y="792" font-size="9.8" fill="#000">80</text>
<text x="1657.5" y="843" font-size="9.8" fill="#000">50</text>
<text x="1657.5" y="904" font-size="9.8" fill="#000">15</text>
<text x="1657.5" y="923" font-size="9.8" fill="#000">0</text></g>
</svg>
</body></html>
